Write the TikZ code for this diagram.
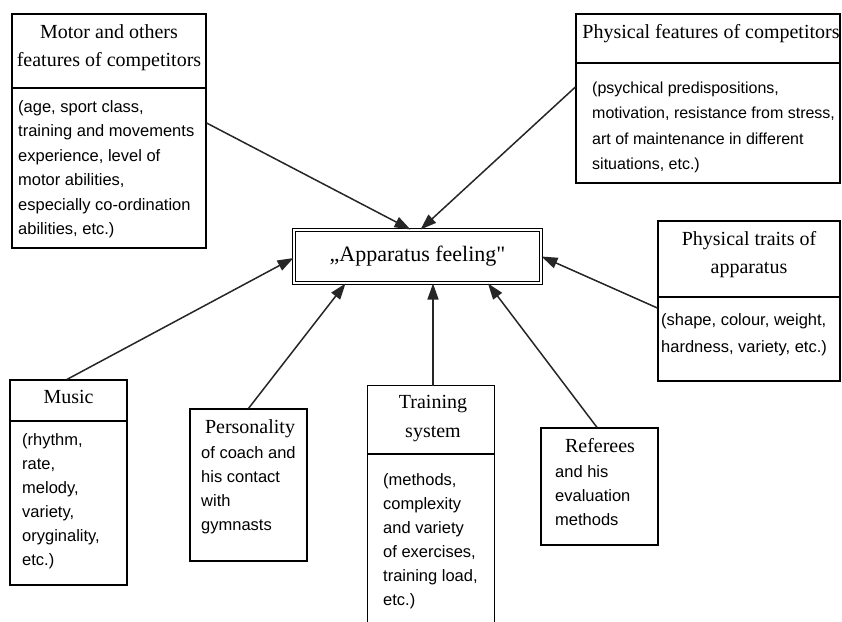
\documentclass[tikz,border=0pt]{standalone}
\usepackage{fontspec}
\setmainfont{Liberation Serif}
\setsansfont{Liberation Sans}
\newfontfamily\feelfont{Liberation Serif}[Ligatures=TeXOff]
\usetikzlibrary{arrows.meta}

\begin{document}
\begin{tikzpicture}[x=1pt, y=-1pt]
    \tikzstyle{frame} = [rectangle, draw, line width=1.2pt, inner sep=0pt]
    \tikzstyle{head} = [font=\fontsize{20}{28}\selectfont, align=center, inner sep=0pt, anchor=base]
    \tikzstyle{body} = [font=\sffamily\fontsize{16.5}{24.5}\selectfont, align=left, inner sep=0pt, anchor=base west]
    \tikzstyle{line} = [draw, -{Triangle[length=16pt, width=11pt]}, line width=1.5pt, black!85]

    \useasboundingbox (0,0) rectangle (842,621);

    % central box
    \node [frame, double, double distance=2pt, line width=1pt, minimum width=247pt, minimum height=53pt,
           font=\feelfont\fontsize{22}{28}\selectfont] (feel) at (417.5,256.5) {„Apparatus feeling"};

    % upper left (multi-line texts sit on their last baseline)
    \node [frame, minimum width=194pt, minimum height=234pt] (motor) at (109,131) {};
    \node [head] (motor-t) at (109,66) {Motor and others\\features of competitors};
    \draw [line width=1.2pt] (motor.west |- 0,88) -- (motor.east |- 0,88);
    \node [body] (motor-b) at (18,234.5) {(age, sport class,\\training and movements\\experience, level of\\motor abilities,\\especially co-ordination\\abilities, etc.)};

    % upper right
    \node [frame, minimum width=264pt, minimum height=169pt] (phys) at (708,98.5) {};
    \node [head] (phys-t) at (711,38) {Physical features of competitors};
    \draw [line width=1.2pt] (phys.west |- 0,63) -- (phys.east |- 0,63);
    \node [body, font=\sffamily\fontsize{16}{25.5}\selectfont] (phys-b) at (592,169.5) {(psychical predispositions,\\motivation, resistance from stress,\\art of maintenance in different\\situations, etc.)};

    % right
    \node [frame, minimum width=182pt, minimum height=160pt] (traits) at (749,301) {};
    \node [head] (traits-t) at (749,273) {Physical traits of\\apparatus};
    \draw [line width=1.2pt] (traits.west |- 0,297) -- (traits.east |- 0,297);
    \node [body, font=\sffamily\fontsize{16.5}{27}\selectfont] (traits-b) at (661,352) {(shape, colour, weight,\\hardness, variety, etc.)};

    % bottom row
    \node [frame, minimum width=117pt, minimum height=205pt] (music) at (68.5,482.5) {};
    \node [head] (music-t) at (68.5,403) {Music};
    \draw [line width=1.2pt] (music.west |- 0,421) -- (music.east |- 0,421);
    \node [body, font=\sffamily\fontsize{16.5}{24}\selectfont] (music-b) at (22,565) {(rhythm,\\rate,\\melody,\\variety,\\oryginality,\\etc.)};

    \node [frame, minimum width=117pt, minimum height=152pt] (pers) at (248.5,485) {};
    \node [head] (pers-t) at (250,433) {Personality};
    \node [body, font=\sffamily\fontsize{16.5}{24}\selectfont] (pers-b) at (201,530) {of coach and\\his contact\\with\\gymnasts};

    \node [rectangle, minimum width=126pt, minimum height=238pt, inner sep=0pt] (train) at (431,505) {};
    \draw [line width=1.2pt] (train.south west) -- (train.north west) -- (train.north east) -- (train.south east);
    \node [head, font=\fontsize{20}{29}\selectfont] (train-t) at (433,437) {Training\\system};
    \draw [line width=1.2pt] (train.west |- 0,454) -- (train.east |- 0,454);
    \node [body, font=\sffamily\fontsize{16.5}{24}\selectfont] (train-b) at (383,605) {(methods,\\complexity\\and variety\\of exercises,\\training load,\\etc.)};

    \node [frame, minimum width=117pt, minimum height=117pt] (ref) at (599.5,486.5) {};
    \node [head] (ref-t) at (600,452) {Referees};
    \node [body, font=\sffamily\fontsize{16.5}{24}\selectfont] (ref-b) at (555,525) {and his\\evaluation\\methods};

    % arrows
    \path [line] ([yshift=8pt]motor.east) -- ([xshift=-7pt]feel.north);
    \path [line] ([yshift=11.5pt]phys.west) -- ([xshift=3pt]feel.north);
    \path [line] ([yshift=-7pt]traits.west) -- (feel.east);
    \path [line] ([xshift=-1.5pt]music.north) -- ([yshift=-1.5pt]feel.west);
    \path [line] (pers.north) -- ([xshift=-72pt]feel.south);
    \path [line] ([xshift=2pt]train.north) -- ([xshift=2pt]train.north |- feel.south);
    \path [line] ([xshift=-2.5pt]ref.north) -- ([xshift=70.5pt]feel.south);
\end{tikzpicture}
\end{document}
